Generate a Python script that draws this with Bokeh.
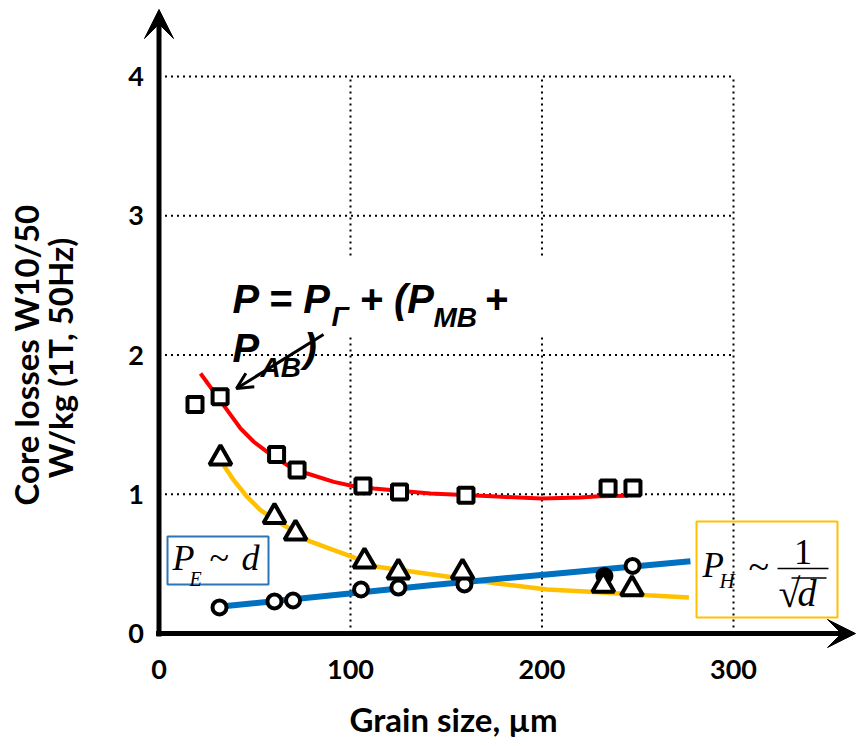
import math
from bokeh.plotting import figure
from bokeh.models import (Range1d, LinearAxis, FixedTicker, Label, Arrow,
                          VeeHead, OpenHead, BoxAnnotation)
from bokeh.embed import file_html
from bokeh.resources import INLINE

# ---------------- data ----------------
x_ticks = [0, 100, 200, 300]
y_ticks = [0, 1, 2, 3, 4]
grid_x = [100, 200, 300]
grid_y = [1, 2, 3, 4]

# total losses (squares)
grain_total = [18.8, 31.9, 61.4, 72.1, 106.5, 125.6, 160.3, 234.5, 247.5]
loss_total = [1.645, 1.70, 1.285, 1.174, 1.06, 1.016, 0.993, 1.045, 1.045]
# hysteresis part (triangles)
grain_hyst = [32.1, 60.3, 71.3, 107.3, 125.0, 158.5, 232.0, 247.0]
loss_hyst = [1.26, 0.84, 0.72, 0.52, 0.44, 0.44, 0.345, 0.32]
# eddy part (circles)
grain_eddy = [31.6, 60.3, 70.0, 105.5, 125.0, 159.5, 232.6, 247.3]
loss_eddy = [0.187, 0.23, 0.237, 0.316, 0.33, 0.352, 0.413, 0.485]

# fitted curves
fit_total_x = [21.7, 35.6, 42.6, 49.5, 56.5, 66.9, 77.4, 91.3, 101.7, 112.2,
               141.8, 176.6, 199.7, 220.0, 229.7, 245.0]
fit_total_y = [1.867, 1.604, 1.472, 1.377, 1.305, 1.209, 1.149, 1.089, 1.058,
               1.041, 1.005, 0.983, 0.969, 0.977, 0.986, 0.99]
fit_hyst_x = [33.8, 39.0, 46.0, 53.0, 60.5, 67.3, 78.2, 91.3, 101.7, 113.9,
              141.8, 176.6, 202.7, 225.3, 255.0, 276.7]
fit_hyst_y = [1.209, 1.101, 0.981, 0.886, 0.815, 0.761, 0.665, 0.598, 0.546,
              0.479, 0.425, 0.359, 0.316, 0.30, 0.275, 0.259]
fit_eddy_x = [31.2, 141.8, 209.6, 277.5]
fit_eddy_y = [0.192, 0.347, 0.433, 0.519]

# ---------------- geometry helpers (page pixel -> data) ----------------
X0_PX, X_PER = 158.5, 1.915     # page x of grain=0, px per µm
Y0_PX, Y_PER = 633.0, 139.25    # page y of loss=0, px per W/kg


def dx(px):
    return (px - X0_PX) / X_PER


def dy(py):
    return (Y0_PX - py) / Y_PER


# vertical shift of the rendered baseline, as a fraction of the font size
BASE_K = {"Liberation Sans": 0.35, "Liberation Serif": 0.34, "Lato": 0.39}


def text(px, py, txt, fs, font, style="normal", align="left", angle=0.0):
    k = BASE_K[font] * fs
    if angle:
        ax, ay = px - k, py
    else:
        ax, ay = px, py - k
    return Label(x=dx(ax), y=dy(ay), text=txt, text_font=font,
                 text_font_style=style, text_font_size=f"{fs}px",
                 text_color="black", text_align=align,
                 text_baseline="alphabetic", angle=angle)


W, H = 858, 746
p = figure(width=W, height=H, output_backend="svg", toolbar_location=None,
           x_range=Range1d(dx(0), dx(W)), y_range=Range1d(dy(H), dy(0)),
           x_axis_type=None, y_axis_type=None, min_border=0,
           outline_line_color=None, background_fill_color="white")

# axes with tick labels (placed at the origin)
ax_style = dict(axis_line_color=None, major_tick_line_color=None,
                minor_tick_line_color=None, major_label_text_font="Lato",
                major_label_text_font_style="bold",
                major_label_text_font_size="27px",
                major_label_text_color="black")
xaxis = LinearAxis(fixed_location=0, ticker=FixedTicker(ticks=x_ticks),
                   major_label_standoff=20, **ax_style)
yaxis = LinearAxis(fixed_location=0, ticker=FixedTicker(ticks=y_ticks),
                   major_label_standoff=9, **ax_style)
p.add_layout(xaxis, "below")
p.add_layout(yaxis, "left")

# dotted grid, limited to the 0..300 x 0..4 box
gx_top = max(grid_y)
gx_right = max(grid_x)
p.segment(x0=grid_x, y0=[0] * len(grid_x), x1=grid_x, y1=[gx_top] * len(grid_x),
          line_color="black", line_width=2, line_dash="2 4")
p.segment(x0=[0] * len(grid_y), y0=grid_y, x1=[gx_right] * len(grid_y), y1=grid_y,
          line_color="black", line_width=2, line_dash="2 4")

# curves
p.line(fit_hyst_x, fit_hyst_y, line_color="#FFC000", line_width=4.5)
p.line(fit_eddy_x, fit_eddy_y, line_color="#0070C0", line_width=6)
p.line(fit_total_x, fit_total_y, line_color="#FF0000", line_width=4)

# markers (one eddy point is drawn filled in the reference)
eddy_fill = ["white"] * 6 + ["black", "white"]
p.scatter(grain_eddy, loss_eddy, marker="circle", size=14, line_width=4,
          line_color="black", fill_color=eddy_fill)
p.scatter(grain_hyst, loss_hyst, marker="triangle", size=22, line_width=4,
          line_color="black", fill_color="white")
p.scatter(grain_total, loss_total, marker="square", size=15, line_width=4,
          line_color="black", fill_color="white")

# axis lines with arrow heads
p.add_layout(Arrow(x_start=dx(155.5), y_start=0, x_end=dx(855), y_end=0,
                   line_width=5, line_color="black",
                   end=VeeHead(size=28, fill_color="black", line_color="black",
                               line_width=1)))
p.add_layout(Arrow(x_start=0, y_start=dy(636), x_end=0, y_end=dy(9),
                   line_width=5, line_color="black",
                   end=VeeHead(size=29, fill_color="black", line_color="black",
                               line_width=1)))

# axis titles
p.add_layout(text(453, 731, "Grain size, µm", 33, "Lato", "bold", "center"))
p.add_layout(text(38, 354.5, "Core losses W10/50", 33, "Lato", "bold", "center",
                  angle=math.pi / 2))
p.add_layout(text(72, 357.5, "W/kg (1T, 50Hz)", 33, "Lato", "bold", "center",
                  angle=math.pi / 2))

# white backing behind the formula's first line
p.add_layout(BoxAnnotation(left=dx(222), right=dx(560), top=dy(258), bottom=dy(334),
                           fill_color="white", fill_alpha=1, line_color=None))

# formula  P = P_Г + (P_МВ + P_АВ)
for txt, px, py, fs in [("P = P", 232, 312, 40), ("Г", 331, 326, 28),
                        ("+ (P", 359, 312, 40), ("МВ", 433, 327, 28),
                        ("+", 484, 312, 40), ("P", 232, 361, 40),
                        ("АВ", 260, 377, 28), (")", 303, 361, 40)]:
    p.add_layout(text(px, py, txt, fs, "Liberation Sans", "bold italic"))

p.add_layout(Arrow(x_start=dx(323), y_start=dy(334), x_end=dx(236), y_end=dy(388),
                   line_width=3, line_color="black",
                   end=OpenHead(size=16, line_width=3, line_color="black")))

box_style = dict(fill_alpha=0, line_alpha=1, line_dash="solid", line_width=2)
SERIF = "Liberation Serif"

# P_E ~ d box
p.add_layout(BoxAnnotation(left=dx(167), right=dx(268), top=dy(536), bottom=dy(584),
                           line_color="#2E75B6", **box_style))
p.add_layout(text(172, 570, "P", 36, SERIF, "italic"))
p.add_layout(text(189, 585, "E", 20, SERIF, "italic"))
p.add_layout(text(209, 570, "~", 36, SERIF))
p.add_layout(text(241, 570, "d", 36, SERIF, "italic"))

# P_H ~ 1/sqrt(d) box
p.add_layout(BoxAnnotation(left=dx(696), right=dx(837), top=dy(521), bottom=dy(617),
                           line_color="#FFC000", **box_style))
p.add_layout(text(702, 577, "P", 35, SERIF, "italic"))
p.add_layout(text(719, 588, "H", 21, SERIF, "italic"))
p.add_layout(text(748, 578, "~", 38, SERIF))
p.add_layout(text(802.5, 564, "1", 36, SERIF, "normal", "center"))
p.add_layout(Arrow(x_start=dx(777), y_start=dy(568), x_end=dx(828), y_end=dy(568),
                   end=None, line_width=1.5, line_color="black"))
p.add_layout(text(778, 607, "√", 40, SERIF))
p.add_layout(Arrow(x_start=dx(791), y_start=dy(577.5), x_end=dx(826), y_end=dy(577.5),
                   end=None, line_width=1.5, line_color="black"))
p.add_layout(text(797, 605, "d", 38, SERIF, "italic"))

open("out.html", "w").write(file_html(p, INLINE))
